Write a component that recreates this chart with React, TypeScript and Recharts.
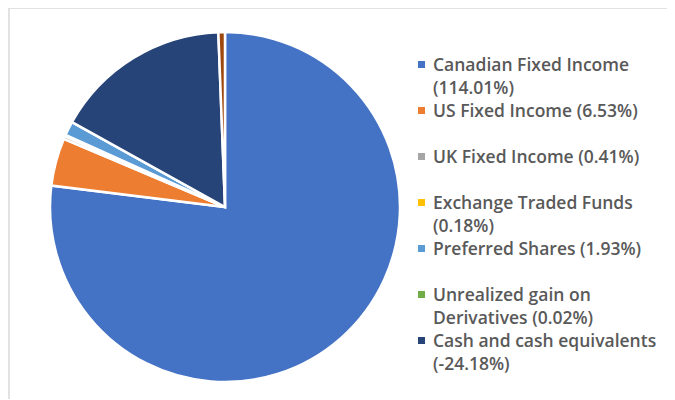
import React from "react";
import { PieChart, Pie, Cell, Legend } from "recharts";

// Holdings as printed in the legend (% of net assets)
const categories = [
  "Canadian Fixed Income",
  "US Fixed Income",
  "UK Fixed Income",
  "Exchange Traded Funds",
  "Preferred Shares",
  "Unrealized gain on Derivatives",
  "Cash and cash equivalents",
];
const weights = [114.01, 6.53, 0.41, 0.18, 1.93, 0.02, -24.18];

// extra sliver at the top of the pie that has no legend entry
const unlabeledSlice = 0.9;

// Office palette
const colors = [
  "#4472C4",
  "#ED7D31",
  "#A5A5A5",
  "#FFC000",
  "#5B9BD5",
  "#70AD47",
  "#264478",
  "#9E480E",
];

// Excel draws negative points by their size
const pieData = [
  ...categories.map((name, i) => ({ name, value: Math.abs(weights[i]) })),
  { name: "", value: unlabeledSlice },
];

const FONT = "'Open Sans', Lato, sans-serif";

const HoldingsLegend = () => (
  <div style={{ fontFamily: FONT }}>
    {categories.map((name, i) => (
      <div
        key={name}
        style={{ height: 46, display: "flex", alignItems: "flex-start" }}
      >
        <div
          style={{
            width: 7,
            height: 7,
            marginTop: 8,
            marginRight: 8,
            flexShrink: 0,
            backgroundColor: colors[i],
          }}
        />
        <div
          style={{
            width: 236,
            fontSize: 17.5,
            lineHeight: "23px",
            fontWeight: 600,
            color: "#595959",
          }}
        >
          {`${name} (${weights[i].toFixed(2)}%)`}
        </div>
      </div>
    ))}
  </div>
);

export default function App() {
  return (
    <div
      style={{
        position: "relative",
        width: 667,
        height: 392,
        boxSizing: "border-box",
        borderTop: "2px solid #e2e2e2",
        borderLeft: "2px solid #e2e2e2",
        marginTop: -1,
      }}
    >
      <PieChart width={665} height={390}>
        <Pie
          data={pieData}
          dataKey="value"
          nameKey="name"
          cx={210}
          cy={193}
          outerRadius={175}
          startAngle={90}
          endAngle={-270}
          stroke="#ffffff"
          strokeWidth={2.5}
          isAnimationActive={false}
        >
          {pieData.map((entry, index) => (
            <Cell key={`cell-${index}`} fill={colors[index % colors.length]} />
          ))}
        </Pie>
        <Legend
          layout="vertical"
          content={<HoldingsLegend />}
          wrapperStyle={{ left: 408, top: 44, width: 262, bottom: "auto" }}
        />
      </PieChart>
    </div>
  );
}
